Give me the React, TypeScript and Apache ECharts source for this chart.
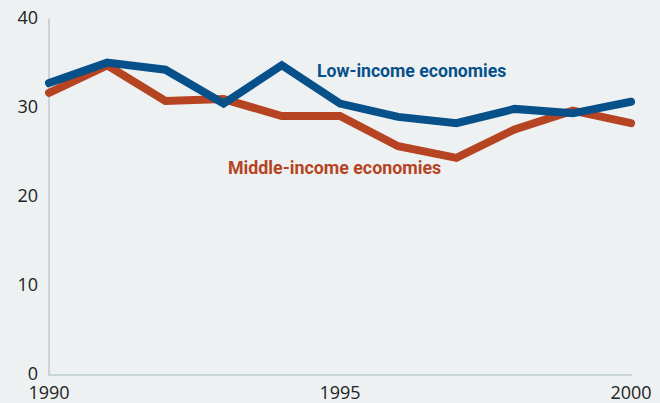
import React, { useEffect, useRef } from "react";
import * as echarts from "echarts";

const years = [1990, 1991, 1992, 1993, 1994, 1995, 1996, 1997, 1998, 1999, 2000];
const lowIncome = [32.8, 35.1, 34.3, 30.5, 34.8, 30.5, 29.0, 28.3, 29.9, 29.4, 30.7];
const middleIncome = [31.7, 34.8, 30.8, 31.0, 29.1, 29.1, 25.7, 24.4, 27.6, 29.7, 28.3];
const yTicks = [0, 10, 20, 30, 40];
const xTicks = [1990, 1995, 2000];

const BLUE = "#07508a";
const ORANGE = "#b64321";
const BG = "#edf1f2";

export default function App() {
  const ref = useRef<HTMLDivElement>(null);
  useEffect(() => {
    if (!ref.current) return;
    const chart = echarts.init(ref.current, undefined, { renderer: "svg" });
    const labelFont = "'Open Sans', 'Noto Sans', sans-serif";
    const boldFont = "'Roboto', 'Open Sans', sans-serif";
    chart.setOption({
      animation: false,
      backgroundColor: BG,
      grid: { left: 49, right: 29, top: 19, bottom: 28, containLabel: false },
      xAxis: {
        type: "value",
        min: xTicks[0],
        max: xTicks[xTicks.length - 1],
        interval: 5,
        axisLine: { show: true, lineStyle: { color: "#c9d4d8", width: 2 } },
        axisTick: { show: false },
        splitLine: { show: false },
        axisLabel: {
          color: "#222",
          fontSize: 18,
          lineHeight: 16,
          fontFamily: labelFont,
          margin: 9,
          formatter: (v: number) => String(v),
        },
      },
      yAxis: {
        type: "value",
        min: yTicks[0],
        max: yTicks[yTicks.length - 1],
        interval: 10,
        axisLine: { show: true, lineStyle: { color: "#c9d4d8", width: 2 } },
        axisTick: { show: false },
        splitLine: { show: false },
        axisLabel: {
          color: "#222",
          fontSize: 18,
          lineHeight: 16,
          fontFamily: labelFont,
          margin: 11,
          verticalAlign: "bottom",
          padding: [0, 0, -6, 0],
        },
      },
      series: [
        {
          name: "Middle-income economies",
          type: "line",
          data: years.map((y, i) => [y, middleIncome[i]]),
          showSymbol: false,
          symbol: "none",
          lineStyle: { color: ORANGE, width: 8, cap: "round", join: "miter" },
          z: 2,
        },
        {
          name: "Low-income economies",
          type: "line",
          data: years.map((y, i) => [y, lowIncome[i]]),
          showSymbol: false,
          symbol: "none",
          lineStyle: { color: BLUE, width: 8, cap: "round", join: "miter" },
          z: 3,
        },
      ],
      graphic: [
        {
          type: "text",
          x: 317,
          y: 61,
          scaleX: 0.98,
          style: {
            text: "Low-income economies",
            fill: BLUE,
            font: `bold 18px ${boldFont}`,
          },
        },
        {
          type: "text",
          x: 228,
          y: 158,
          scaleX: 0.99,
          style: {
            text: "Middle-income economies",
            fill: ORANGE,
            font: `bold 18px ${boldFont}`,
          },
        },
      ],
    });
    return () => chart.dispose();
  }, []);
  return (
    <div
      ref={ref}
      style={{ position: "fixed", left: 0, top: 0, width: 660, height: 403, background: BG }}
    />
  );
}
